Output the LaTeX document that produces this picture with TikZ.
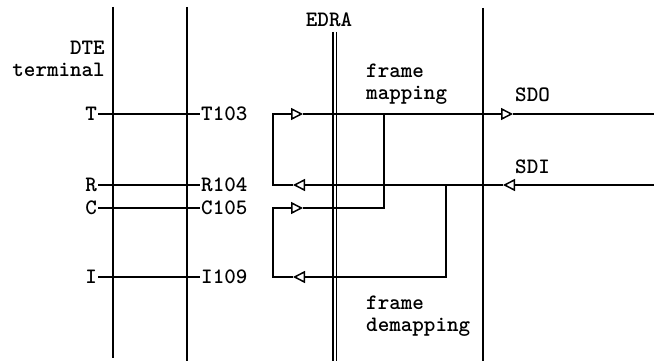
\documentclass[tikz,border=0pt]{standalone}
\usetikzlibrary{arrows.meta}
\newcommand{\ttlab}{\fontsize{22}{22}\selectfont\ttfamily\bfseries}
\tikzset{
  wire/.style={line width=1.6pt},
  flow/.style={wire,-{Triangle[open,length=12pt,width=12pt,line width=1.5pt]}},
  lbl/.style={inner sep=1pt,font=\ttlab},
}
\begin{document}
\begin{tikzpicture}[x=1pt,y=-1pt]
  \useasboundingbox (0,0) rectangle (654,361);

  % interface lines
  \draw[wire] (113,7) -- (113,358);
  \draw[wire] (187,7) -- (187,361);
  \draw[wire] (333,32) -- (333,361);
  \draw[wire] (336.5,32) -- (336.5,361);
  \draw[wire] (483,8) -- (483,361);

  % labels
  \node[lbl,align=right,anchor=east] (dte) at (106,59) {DTE\\terminal};
  \node[lbl] (edraLbl) at (329,20) {EDRA};
  \node[lbl,align=left,anchor=west] (map) at (365,84) {frame\\mapping};
  \node[lbl,align=left,anchor=west] (demap) at (365,316) {frame\\demapping};
  \node[lbl,anchor=west] (sdo) at (514,95) {SDO};
  \node[lbl,anchor=west] (sdi) at (514,167) {SDI};

  % DTE circuits
  \node[lbl,anchor=east] (T) at (98,114) {T};
  \node[lbl,anchor=east] (R) at (98,185) {R};
  \node[lbl,anchor=east] (C) at (98,208) {C};
  \node[lbl,anchor=east] (I) at (98,277) {I};
  \node[lbl,anchor=west] (T103) at (200,114) {T103};
  \node[lbl,anchor=west] (R104) at (200,185) {R104};
  \node[lbl,anchor=west] (C105) at (200,208) {C105};
  \node[lbl,anchor=west] (I109) at (200,277) {I109};
  \draw[wire] (T) -- (T103);
  \draw[wire] (R) -- (R104);
  \draw[wire] (C) -- (C105);
  \draw[wire] (I) -- (I109);

  % points on the EDRA side
  \coordinate (tLoop) at (273,114);
  \coordinate (cLoop) at (273,208);
  \coordinate (tTip) at (303,114);
  \coordinate (rTip) at (293,185);
  \coordinate (cTip) at (303,208);
  \coordinate (iTip) at (293,277);
  \coordinate (tMap) at (384,114);
  \coordinate (rDemap) at (446,185);
  \coordinate (sdoTip) at (513,114);
  \coordinate (sdiTip) at (503,185);
  \coordinate (tEnd) at (654,114);
  \coordinate (rEnd) at (654,185);

  % loops
  \draw[flow] (rTip) -| (tLoop) -- (tTip);
  \draw[flow] (iTip) -| (cLoop) -- (cTip);

  % SDO / SDI
  \draw[flow] (tTip) -- (sdoTip);
  \draw[wire] (sdoTip) -- (tEnd);
  \draw[flow] (rEnd) -- (sdiTip);
  \draw[flow] (sdiTip) -- (rTip);

  % mapping / demapping
  \draw[wire] (cTip) -| (tMap);
  \draw[flow] (rDemap) |- (iTip);
\end{tikzpicture}
\end{document}
